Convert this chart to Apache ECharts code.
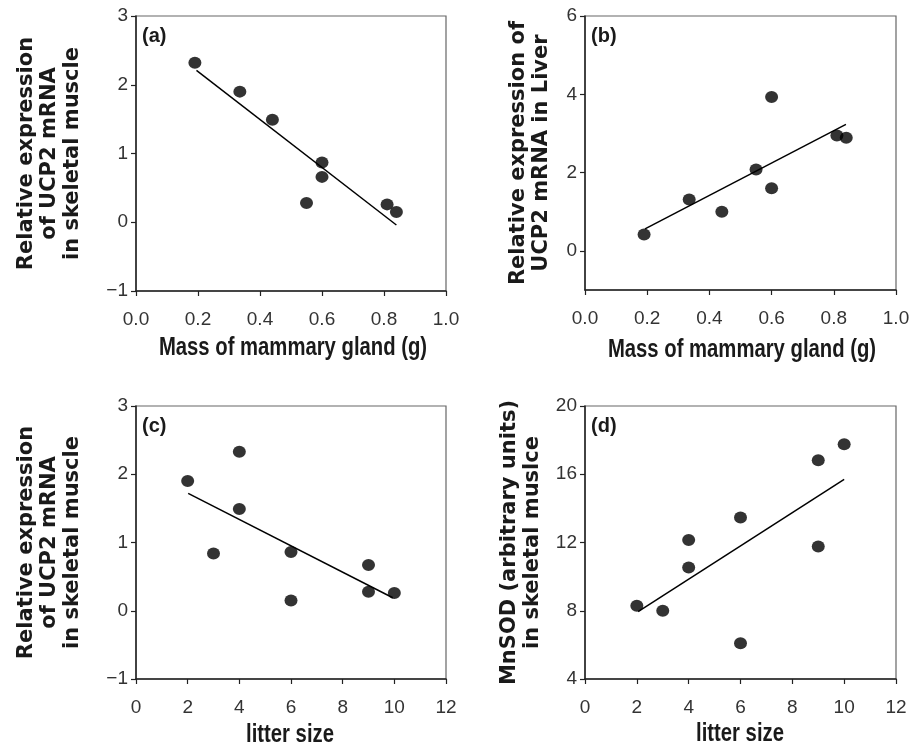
<!DOCTYPE html>
<html><head><meta charset="utf-8">
<script src="https://cdn.jsdelivr.net/npm/echarts@6/dist/echarts.min.js"></script>
<style>html,body{margin:0;padding:0;background:#fff}#c{width:919px;height:748px}</style>
</head><body><div id="c"></div>
<script>
// Panel (a): mammary gland mass vs UCP2 mRNA in skeletal muscle
const aX = [0.19, 0.335, 0.44, 0.55, 0.60, 0.60, 0.81, 0.84];
const aY = [2.32, 1.90, 1.49, 0.28, 0.87, 0.66, 0.26, 0.15];
const aFitX = [0.195, 0.84];
const aFitY = [2.21, -0.04];
// Panel (b): mammary gland mass vs UCP2 mRNA in liver
const bX = [0.19, 0.335, 0.44, 0.55, 0.60, 0.60, 0.81, 0.84];
const bY = [0.42, 1.31, 1.00, 2.08, 3.93, 1.60, 2.95, 2.89];
const bFitX = [0.193, 0.839];
const bFitY = [0.56, 3.23];
// Panel (c): litter size vs UCP2 mRNA in skeletal muscle
const cX = [2, 3, 4, 4, 6, 6, 9, 9, 10];
const cY = [1.90, 0.84, 2.33, 1.49, 0.86, 0.15, 0.67, 0.28, 0.26];
const cFitX = [2.02, 9.94];
const cFitY = [1.72, 0.19];
// Panel (d): litter size vs MnSOD in skeletal muscle
const dX = [2, 3, 4, 4, 6, 6, 9, 9, 10];
const dY = [8.29, 8.0, 12.14, 10.54, 13.46, 6.09, 16.82, 11.77, 17.76];
const dFitX = [2.05, 10];
const dFitY = [7.95, 15.7];

// Tick labels
const xTicksMass = [0, 0.2, 0.4, 0.6, 0.8, 1.0];
const xTicksLitter = [0, 2, 4, 6, 8, 10, 12];
const yTicksA = [-1, 0, 1, 2, 3];
const yTicksB = [0, 2, 4, 6];
const yTicksC = [-1, 0, 1, 2, 3];
const yTicksD = [4, 8, 12, 16, 20];

const panelLabels = ['(a)', '(b)', '(c)', '(d)'];
const xTitles = ['Mass of mammary gland (g)', 'Mass of mammary gland (g)', 'litter size', 'litter size'];
const yTitles = [
  'Relative expression\nof UCP2 mRNA\nin skeletal muscle',
  'Relative expression of\nUCP2 mRNA in Liver',
  'Relative expression\nof UCP2 mRNA\nin skeletal muscle',
  'MnSOD (arbitrary units)\nin skeletal muslce'
];

const xs = [aX, bX, cX, dX], ys = [aY, bY, cY, dY];
const fx = [aFitX, bFitX, cFitX, dFitX], fy = [aFitY, bFitY, cFitY, dFitY];
const xTicks = [xTicksMass, xTicksMass, xTicksLitter, xTicksLitter];
const yTicks = [yTicksA, yTicksB, yTicksC, yTicksD];

const grids = [
  {left: 136, top: 16, width: 310, height: 275},
  {left: 585, top: 16, width: 311, height: 274},
  {left: 136, top: 406, width: 310, height: 273},
  {left: 585, top: 406, width: 311, height: 273}
];
const yRanges = [[-1, 3], [-1, 6], [-1, 3], [4, 20]];
const yGaps = [52, 32, 52, 41];
const xTitlePos = [[293, 348], [742, 350], [290, 735], [740, 734]];

const sans = '"Liberation Sans", Arial, sans-serif';
const ink = '#1a1a1a';

const option = {
  backgroundColor: '#fff',
  animation: false,
  grid: grids.map(g => Object.assign({show: true, borderColor: '#666', borderWidth: 1.2, backgroundColor: 'transparent'}, g)),
  xAxis: grids.map((g, i) => ({
    gridIndex: i, type: 'value',
    min: xTicks[i][0], max: xTicks[i][xTicks[i].length - 1],
    axisLine: {show: true, onZero: false, lineStyle: {color: '#222', width: 1.5}},
    axisTick: {show: true, inside: false, length: 5, customValues: xTicks[i], lineStyle: {color: '#222', width: 1.2}},
    axisLabel: {
      margin: 19, fontFamily: sans, fontSize: 19, color: '#333',
      customValues: xTicks[i],
      formatter: v => i < 2 ? v.toFixed(1) : String(v)
    },
    splitLine: {show: false}
  })),
  yAxis: grids.map((g, i) => ({
    gridIndex: i, type: 'value',
    min: yRanges[i][0], max: yRanges[i][1],
    name: yTitles[i], nameLocation: 'middle', nameGap: yGaps[i], nameRotate: 90,
    nameTextStyle: {fontFamily: '"DejaVu Sans", sans-serif', fontWeight: 'bold', fontSize: 21, color: ink, lineHeight: 23, align: 'center'},
    axisLine: {show: true, onZero: false, lineStyle: {color: '#222', width: 1.5}},
    axisTick: {show: true, inside: false, length: 5, customValues: yTicks[i], lineStyle: {color: '#222', width: 1.2}},
    axisLabel: {
      margin: 8, fontFamily: sans, fontSize: 19, color: '#333',
      customValues: yTicks[i],
      formatter: v => String(v).replace('-', '\u2212')
    },
    splitLine: {show: false}
  })),
  graphic: grids.map((g, i) => ({
    type: 'text', left: g.left + 6, top: g.top + 10,
    style: {text: panelLabels[i], font: 'bold 20px "Liberation Sans", Arial, sans-serif', fill: ink}
  })).concat(xTitles.map((t, i) => ({
    type: 'text', x: xTitlePos[i][0], y: xTitlePos[i][1], scaleX: 0.78,
    style: {text: t, font: 'bold 26px "Liberation Sans", Arial, sans-serif', fill: ink, align: 'center', verticalAlign: 'middle'}
  }))),
  series: []
};

for (let i = 0; i < 4; i++) {
  option.series.push({
    type: 'scatter', xAxisIndex: i, yAxisIndex: i,
    data: xs[i].map((x, k) => [x, ys[i][k]]),
    symbol: 'circle', symbolSize: [13, 12],
    itemStyle: {color: '#000'}
  });
  option.series.push({
    type: 'line', xAxisIndex: i, yAxisIndex: i,
    data: fx[i].map((x, k) => [x, fy[i][k]]),
    showSymbol: false, symbol: 'none',
    lineStyle: {color: '#000', width: 1.5}
  });
}

const chart = echarts.init(document.getElementById('c'), null, {renderer: 'canvas'});
chart.setOption(option);
</script>
</body></html>
